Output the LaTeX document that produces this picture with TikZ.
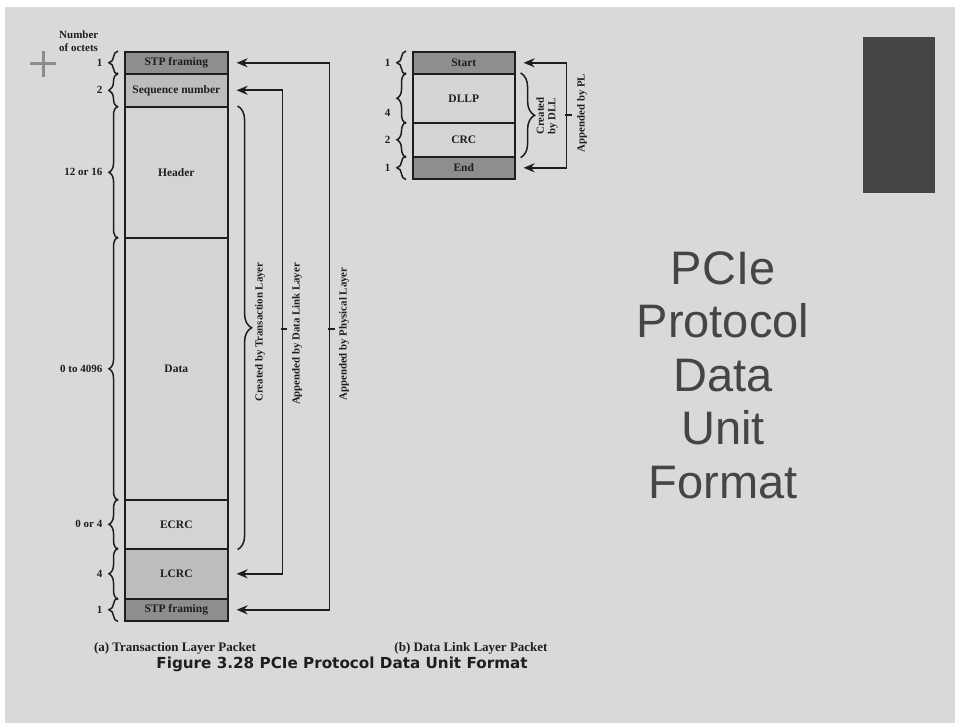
\documentclass[tikz,border=0pt]{standalone}
\usepackage{fontspec}
\setmainfont{Liberation Serif}
\newfontfamily\slidefont{Liberation Sans}
\newfontfamily\figfont{DejaVu Sans}
\usetikzlibrary{arrows.meta,decorations.pathreplacing,calc}
\definecolor{slide}{HTML}{D9D9D9}
\definecolor{ink}{HTML}{1E1E1E}
\definecolor{fdark}{HTML}{8E8E8E}
\definecolor{fmid}{HTML}{BDBDBD}
\definecolor{flight}{HTML}{D4D4D4}
\definecolor{slideink}{HTML}{454545}
\definecolor{plusgray}{HTML}{8C8C8C}
\newcommand{\TlpX}{124}
\newcommand{\DlpX}{412}
\newcommand{\FieldW}{103pt}
\newcommand{\DlpW}{102pt}

\begin{document}
\begin{tikzpicture}[x=1pt, y=-1pt,
    field/.style={draw=ink, line width=1.6pt, minimum width=\FieldW, inner sep=0pt, anchor=north west,
                  text=ink, font=\fontsize{11.5}{13}\selectfont\bfseries},
    lbrace/.style={decorate, decoration={brace, amplitude=9pt}, draw=ink, line width=1.5pt},
    rbrace/.style={decorate, decoration={brace, amplitude=14pt}, draw=ink, line width=1.5pt},
    octet/.style={left=15pt, inner sep=0pt, text=ink, font=\fontsize{11}{13}\selectfont\bfseries},
    link/.style={{Stealth[length=11pt, width=9pt]}-{Stealth[length=11pt, width=9pt]}, draw=ink, line width=1.7pt},
    tick/.style={draw=ink, line width=1.7pt},
    vlabel/.style={rotate=90, inner sep=0pt, text=ink, align=center, font=\fontsize{10.8}{11.5}\selectfont\bfseries},
    caption/.style={inner sep=0pt, text=ink, font=\fontsize{13}{15}\selectfont\bfseries},
  ]

\useasboundingbox (0,0) rectangle (955,723);
\fill[white] (0,0) rectangle (955,723);
\fill[slide] (5,7) rectangle (955,723);

% --- Slide decoration -------------------------------------------------------------
\draw[plusgray, line width=3pt] (30,63) -- (56,63) (43,51) -- (43,77);
\node[fill=slideink, minimum width=72pt, minimum height=156pt, anchor=north west, inner sep=0pt] (block) at (863,37) {};
\node[font=\slidefont\fontsize{47}{53.5}\selectfont, text=slideink, align=center] (title) at (723,375)
  {PCIe\\Protocol\\Data\\Unit\\Format};

\node[anchor=north west, align=left, inner sep=0pt, text=ink, font=\fontsize{11}{13}\selectfont\bfseries] (octets) at (59,31)
  {Number\\of octets};

% --- (a) Transaction layer packet --------------------------------------------------
\foreach \n/\t/\b/\lab/\f/\oct in {stpa/51/73/{STP framing}/fdark/1,
                                  seq/73/106/{Sequence number}/fmid/2,
                                  hdr/106/237/Header/flight/{12 or 16},
                                  data/237/499/Data/flight/{0 to 4096},
                                  ecrc/499/548/ECRC/flight/{0 or 4},
                                  lcrc/548/598/LCRC/fmid/4,
                                  stpb/598/620/{STP framing}/fdark/1} {
  \pgfmathsetmacro{\h}{\b-\t}
  \node[field, fill=\f, minimum height=\h pt] (\n) at (\TlpX,\t) {\lab};
  \draw[lbrace] ([xshift=-6pt]\n.south west) -- ([xshift=-6pt]\n.north west) node[octet, midway] {\oct};
}

\draw[rbrace] ([xshift=9pt]hdr.north east) -- ([xshift=9pt]ecrc.south east);
\node[vlabel] (tllab) at (260,332) {Created by Transaction Layer};

\draw[link] ([xshift=8pt]seq.east) -| ([xshift=54pt]lcrc.east) -- ([xshift=8pt]lcrc.east);
\draw[tick] (281,329) -- ++(6,0);
\node[vlabel] (dllab) at (297,334) {Appended by Data Link Layer};

\draw[link] ([xshift=8pt]stpa.east) -| ([xshift=101pt]stpb.east) -- ([xshift=8pt]stpb.east);
\draw[tick] (328,329) -- ++(7,0);
\node[vlabel] (pllab) at (344,334) {Appended by Physical Layer};

% --- (b) Data link layer packet ----------------------------------------------------
\foreach \n/\t/\b/\lab/\f/\oct/\dy in {dstart/51/73/Start/fdark/1/0,
                                      dllp/73/122/DLLP/flight/4/-15,
                                      crc/122/156/CRC/flight/2/0,
                                      dend/156/178/End/fdark/1/0} {
  \pgfmathsetmacro{\h}{\b-\t}
  \node[field, fill=\f, minimum width=\DlpW, minimum height=\h pt] (\n) at (\DlpX,\t) {\lab};
  \draw[lbrace] ([xshift=-6pt]\n.south west) -- ([xshift=-6pt]\n.north west) node[octet, midway, yshift=\dy pt] {\oct};
}

\draw[rbrace] ([xshift=5pt]dllp.north east) -- ([xshift=5pt]crc.south east);
\node[vlabel] (dlllab) at (547,116) {Created\\by DLL};

\draw[link] ([xshift=8pt]dstart.east) -| ([xshift=51pt]dend.east) -- ([xshift=8pt]dend.east);
\draw[tick] (565,115) -- ++(7,0);
\node[vlabel] (pl) at (582,113) {Appended by PL};

% --- Captions ----------------------------------------------------------------------
\node[caption] (capa) at (175,648) {(a) Transaction Layer Packet};
\node[caption] (capb) at (471,648) {(b) Data Link Layer Packet};
\node[inner sep=0pt, text=ink, font=\figfont\bfseries\fontsize{15.2}{18}\selectfont] (fig) at (342,664)
  {Figure 3.28 PCIe Protocol Data Unit Format};

\end{tikzpicture}
\end{document}
